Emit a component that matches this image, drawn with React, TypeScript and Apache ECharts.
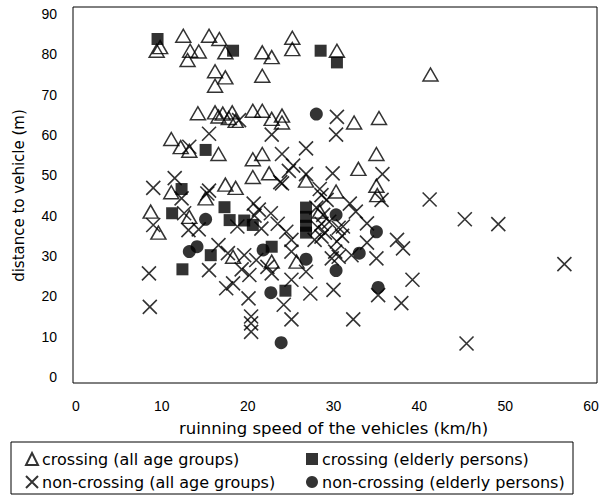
import React, { useEffect, useRef } from "react";
import * as echarts from "echarts";

const seriesNames = [
  "crossing (all age groups)",
  "crossing (elderly persons)",
  "non-crossing (all age groups)",
  "non-crossing (elderly persons)",
];

const crossingAll: number[][] = [
  [9.4, 80.9], [9.8, 81.8], [12.5, 84.6], [15.5, 84.6], [16.7, 83.8], [13.3, 80.9],
  [14.3, 80.7], [13.0, 78.6], [17.4, 80.5], [16.2, 75.8], [17.4, 74.3], [16.2, 72.2],
  [21.7, 80.5], [22.8, 79.3], [25.2, 84.1], [25.2, 81.3], [21.7, 74.7], [30.4, 80.9],
  [41.3, 75.0], [14.2, 65.4], [16.2, 65.6], [17.1, 65.3], [18.2, 65.6], [16.6, 64.6],
  [17.8, 64.2], [18.6, 63.5], [20.6, 66.0], [21.7, 66.0], [22.8, 64.0], [24.0, 64.8],
  [24.0, 63.1], [32.4, 63.1], [35.3, 64.2], [11.1, 59.0], [12.2, 57.0], [13.2, 56.1],
  [16.6, 55.3], [20.6, 54.0], [21.7, 55.3], [35.0, 55.3], [20.6, 49.6], [22.5, 50.5],
  [26.8, 48.7], [32.9, 51.6], [35.0, 47.4], [35.1, 45.1], [30.3, 46.0], [17.4, 47.7],
  [18.6, 46.9], [11.1, 45.8], [15.1, 44.3], [8.7, 41.0], [13.2, 39.7], [9.6, 35.8],
  [18.3, 29.8], [22.8, 28.6], [25.7, 28.6], [28.4, 41.0],
];

const crossingElderly: number[][] = [
  [9.5, 83.8], [18.3, 80.9], [28.5, 80.9], [30.4, 78.0], [15.1, 56.3], [12.3, 46.6],
  [11.2, 40.6], [17.3, 42.1], [17.9, 38.9], [19.6, 38.8], [20.6, 37.7], [15.7, 30.2],
  [12.4, 26.7], [22.8, 32.3], [24.4, 21.4], [26.8, 42.0], [26.8, 39.7], [26.8, 37.5],
  [26.8, 35.8],
];

const nonCrossingAll: number[][] = [
  [19.0, 63.7], [15.5, 60.3], [13.2, 57.1], [11.5, 49.3], [9.0, 46.9], [15.5, 46.2],
  [30.4, 64.5], [30.3, 60.1], [22.8, 60.1], [26.8, 56.7], [24.0, 55.3], [25.3, 52.4],
  [24.8, 51.1], [26.8, 50.3], [23.8, 48.3], [29.9, 50.5], [35.7, 50.3], [28.4, 46.6],
  [35.6, 43.9], [41.2, 44.0], [45.3, 39.1], [49.2, 37.9], [56.9, 28.0], [45.5, 8.3],
  [31.9, 43.0], [31.1, 37.3], [33.9, 38.1], [33.9, 33.3], [32.1, 30.2], [37.4, 34.0],
  [38.1, 31.9], [35.0, 29.4], [30.0, 21.6], [35.2, 20.3], [39.2, 24.1], [37.9, 18.3],
  [32.3, 14.3], [12.3, 44.3], [15.3, 45.5], [12.6, 40.6], [9.0, 37.7], [13.1, 36.4],
  [14.3, 36.6], [18.8, 37.3], [16.6, 32.7], [17.7, 30.7], [19.6, 30.2], [8.5, 25.7],
  [15.5, 26.5], [19.3, 26.7], [20.2, 25.3], [17.5, 22.0], [18.3, 23.2], [20.1, 19.5],
  [8.6, 17.4], [20.4, 15.0], [20.4, 13.3], [20.4, 11.2], [24.0, 48.0], [28.6, 45.1],
  [29.2, 43.9], [22.7, 40.6], [20.7, 43.0], [21.6, 36.8], [25.1, 34.0], [25.1, 31.1],
  [27.8, 34.0], [28.6, 34.8], [30.4, 33.6], [30.2, 31.1], [27.3, 20.7], [24.2, 17.9],
  [25.1, 14.3], [25.1, 24.1], [22.8, 25.7], [26.8, 26.1], [29.8, 29.4], [30.6, 29.8],
  [28.0, 42.0], [28.8, 40.2], [29.5, 38.5], [28.2, 37.0], [29.0, 35.8], [31.0, 35.0],
  [21.3, 41.5], [20.8, 40.0], [23.5, 38.0], [24.5, 36.0], [32.6, 41.0], [22.3, 27.3],
  [21.0, 29.0], [28.6, 38.0], [30.6, 37.0],
];

const nonCrossingElderly: number[][] = [
  [28.0, 65.2], [15.1, 39.1], [13.2, 31.1], [14.1, 32.3], [21.8, 31.5], [30.3, 40.2],
  [35.0, 36.0], [33.0, 30.7], [30.3, 26.4], [35.2, 22.2], [26.8, 29.2], [22.7, 20.9],
  [23.9, 8.5],
];

const xTitle = "ruinning speed of the vehicles (km/h)";
const yTitle = "distance to vehicle (m)";

const TICK_FONT = "Liberation Sans, Arial, sans-serif";
const TEXT_FONT = "DejaVu Sans, Verdana, sans-serif";
const CROSS = "path://M0,0L10,10M10,0L0,10";

export default function App() {
  const ref = useRef<HTMLDivElement>(null);
  useEffect(() => {
    if (!ref.current) return;
    const chart = echarts.init(ref.current, undefined, { renderer: "svg" });
    const hollow = { color: "rgba(0,0,0,0)", borderColor: "#000", borderWidth: 1.5 };
    const legendText = { fontSize: 16, color: "#000", fontFamily: TEXT_FONT, padding: [0, 0, 0, -1] };
    const mkLegend = (name: string, left: number, top: number) => ({
      orient: "horizontal", left, top, padding: 0, itemWidth: 12, itemHeight: 12,
      data: [name], textStyle: legendText, selectedMode: false,
    });
    chart.setOption({
      animation: false,
      backgroundColor: "#fff",
      textStyle: { fontFamily: TEXT_FONT, color: "#000" },
      grid: { left: 76, right: 11, top: 14, bottom: 118 },
      xAxis: {
        type: "value", min: 0, max: 60, interval: 10,
        axisLine: { show: false }, axisTick: { show: false }, splitLine: { show: false },
        axisLabel: { color: "#000", fontSize: 14, margin: 22, fontFamily: TICK_FONT },
        name: xTitle, nameLocation: "middle", nameGap: 43,
        nameTextStyle: { color: "#000", fontSize: 16.5, fontFamily: TEXT_FONT },
      },
      yAxis: {
        type: "value", min: 0, max: 90, interval: 10,
        axisLine: { show: false }, axisTick: { show: false }, splitLine: { show: false },
        axisLabel: { color: "#000", fontSize: 14, margin: 19, fontFamily: TICK_FONT },
        name: yTitle, nameLocation: "middle", nameGap: 50,
        nameTextStyle: { color: "#000", fontSize: 15, fontFamily: TEXT_FONT },
      },
      legend: [
        mkLegend(seriesNames[0], 25, 451),
        mkLegend(seriesNames[2], 25, 474),
        mkLegend(seriesNames[1], 306, 451),
        mkLegend(seriesNames[3], 306, 474),
      ],
      graphic: [
        { type: "rect", shape: { x: 73, y: 7, width: 524, height: 376 }, style: { fill: "none", stroke: "#000", lineWidth: 1 }, silent: true },
        { type: "rect", shape: { x: 11, y: 442, width: 562, height: 52 }, style: { fill: "none", stroke: "#000", lineWidth: 1 }, silent: true },
      ],
      series: [
        { name: seriesNames[0], type: "scatter", symbol: "triangle", symbolSize: [15, 13], data: crossingAll, itemStyle: hollow },
        { name: seriesNames[2], type: "scatter", symbol: CROSS, symbolSize: 14, data: nonCrossingAll, itemStyle: { color: "rgba(0,0,0,0)", borderColor: "#000", borderWidth: 1.6 } },
        { name: seriesNames[1], type: "scatter", symbol: "rect", symbolSize: 12, data: crossingElderly, itemStyle: { color: "#000" } },
        { name: seriesNames[3], type: "scatter", symbol: "circle", symbolSize: 13, data: nonCrossingElderly, itemStyle: { color: "#000" } },
      ],
    });
    return () => chart.dispose();
  }, []);
  return <div ref={ref} style={{ position: "fixed", left: 0, top: 0, width: 602, height: 495 }} />;
}
